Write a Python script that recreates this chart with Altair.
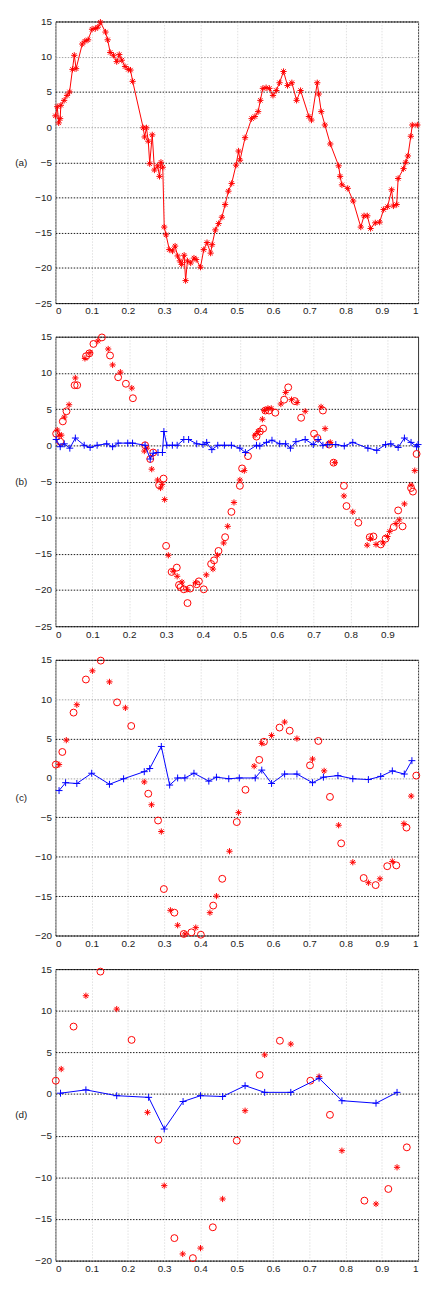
import altair as alt
import pandas as pd

# ---------------- panel (a): red line with '*' markers ----------------
a_x = [0, 0.005, 0.009, 0.013, 0.015, 0.024, 0.032, 0.039, 0.047, 0.052, 0.057, 0.074, 0.081, 0.09,
       0.101, 0.11, 0.117, 0.124, 0.138, 0.144, 0.151, 0.16, 0.169, 0.176, 0.183, 0.192, 0.201, 0.207,
       0.213, 0.242, 0.246, 0.251, 0.256, 0.26, 0.267, 0.273, 0.282, 0.287, 0.291, 0.296, 0.3, 0.305,
       0.314, 0.323, 0.33, 0.337, 0.343, 0.348, 0.355, 0.359, 0.364, 0.373, 0.382, 0.388, 0.4, 0.409,
       0.418, 0.428, 0.432, 0.441, 0.45, 0.459, 0.468, 0.477, 0.486, 0.498, 0.505, 0.509, 0.523, 0.541,
       0.55, 0.559, 0.565, 0.572, 0.581, 0.59, 0.6, 0.609, 0.618, 0.629, 0.64, 0.652, 0.665, 0.676,
       0.699, 0.706, 0.722, 0.726, 0.733, 0.743, 0.758, 0.781, 0.785, 0.79, 0.806, 0.821, 0.842, 0.851,
       0.86, 0.869, 0.882, 0.894, 0.905, 0.916, 0.927, 0.932, 0.941, 0.945, 0.96, 0.966, 0.972, 0.98,
       0.984, 0.998]
a_y = [1.6, 2.9, 0.6, 1.2, 3.1, 3.8, 4.5, 5.0, 8.2, 10.2, 8.3, 11.8, 12.2, 12.4, 13.9, 14.0, 14.2,
       14.9, 13.5, 12.4, 10.6, 10.2, 9.3, 10.3, 9.5, 8.6, 8.2, 8.1, 6.5, -0.1, -1.4, -0.1, -2.0, -5.2,
       -1.1, -6.1, -5.5, -7.0, -5.0, -5.7, -14.2, -15.3, -17.4, -17.6, -16.9, -18.3, -19.0, -19.5,
       -18.2, -21.8, -19.0, -19.3, -18.6, -18.8, -19.9, -17.4, -16.4, -17.9, -16.7, -14.6, -13.7,
       -12.8, -11.0, -9.1, -8.0, -5.4, -3.4, -4.7, -1.5, 1.2, 1.5, 2.2, 3.8, 5.5, 5.6, 5.5, 4.5, 5.2,
       6.3, 7.9, 5.9, 6.3, 3.8, 5.2, 1.5, 1.0, 6.3, 4.7, 2.2, 0.3, -2.4, -5.5, -7.0, -8.2, -8.7, -10.5,
       -14.2, -12.6, -12.6, -14.4, -13.6, -13.5, -11.7, -11.3, -8.9, -11.2, -11.0, -7.3, -5.9, -5.0,
       -4.1, -1.3, 0.3, 0.3]

# ---------------- panel (b) ----------------
b_o_x = [0.002, 0.013, 0.02, 0.03, 0.052, 0.059, 0.083, 0.092, 0.103, 0.126, 0.148, 0.17, 0.191,
         0.21, 0.243, 0.257, 0.265, 0.281, 0.293, 0.3, 0.315, 0.329, 0.335, 0.339, 0.348, 0.358, 0.365,
         0.383, 0.389, 0.402, 0.422, 0.43, 0.442, 0.46, 0.477, 0.5, 0.506, 0.522, 0.545, 0.554, 0.563,
         0.569, 0.579, 0.596, 0.62, 0.631, 0.649, 0.666, 0.701, 0.71, 0.725, 0.742, 0.754, 0.782, 0.789,
         0.821, 0.852, 0.862, 0.882, 0.895, 0.917, 0.929, 0.941, 0.964, 0.969, 0.979]
b_o_y = [1.6, 0.5, 3.3, 4.7, 8.3, 8.3, 12.3, 12.7, 14.0, 14.9, 12.4, 9.4, 8.5, 6.5, 0.0, -1.9, -1.0,
         -5.5, -4.6, -13.9, -17.5, -16.9, -19.3, -19.6, -19.9, -21.8, -19.8, -19.2, -18.8, -19.9, -16.4,
         -15.9, -14.6, -12.7, -9.2, -5.6, -3.2, -1.5, 1.2, 1.9, 2.3, 4.8, 4.8, 4.5, 6.3, 8.0, 6.1, 3.8,
         1.6, 1.0, 4.8, 0.1, -2.4, -5.6, -8.4, -10.7, -12.7, -12.6, -13.7, -12.9, -11.3, -9.0, -11.2,
         -5.9, -6.4, -1.2]
b_s_x = [0.005, 0.01, 0.016, 0.024, 0.037, 0.054, 0.08, 0.094, 0.115, 0.143, 0.155, 0.176, 0.207,
         0.241, 0.248, 0.261, 0.277, 0.285, 0.289, 0.296, 0.306, 0.319, 0.33, 0.343, 0.357, 0.38, 0.409,
         0.427, 0.439, 0.456, 0.467, 0.484, 0.5, 0.512, 0.541, 0.55, 0.561, 0.567, 0.576, 0.585, 0.611,
         0.624, 0.64, 0.655, 0.677, 0.72, 0.731, 0.745, 0.757, 0.782, 0.806, 0.845, 0.854, 0.869, 0.888,
         0.9, 0.906, 0.923, 0.932, 0.946, 0.964, 0.974]
b_s_y = [2.1, 1.4, 1.4, 3.9, 5.6, 9.3, 12.0, 12.8, 14.4, 13.3, 11.1, 10.1, 7.9, -0.8, -0.4, -3.3, -4.8,
         -5.9, -5.4, -7.5, -15.2, -17.4, -18.1, -18.9, -19.9, -19.0, -17.9, -17.1, -15.2, -13.5, -11.2,
         -7.9, -4.8, -3.5, 1.4, 1.9, 3.6, 4.8, 5.1, 5.1, 5.7, 7.3, 6.3, 5.9, 4.7, 5.3, 2.3, 0.4, -2.4,
         -7.0, -9.2, -13.8, -12.9, -13.7, -13.5, -12.6, -11.9, -10.8, -10.3, -8.1, -5.5, -3.5]
b_e_x = [0.002, 0.013, 0.024, 0.039, 0.054, 0.078, 0.094, 0.113, 0.139, 0.155, 0.17, 0.196, 0.209,
         0.243, 0.257, 0.265, 0.278, 0.29, 0.294, 0.302, 0.317, 0.33, 0.348, 0.361, 0.383, 0.4, 0.41,
         0.424, 0.44, 0.458, 0.477, 0.5, 0.515, 0.545, 0.554, 0.572, 0.587, 0.608, 0.624, 0.637, 0.652,
         0.677, 0.699, 0.712, 0.725, 0.738, 0.76, 0.783, 0.806, 0.847, 0.871, 0.895, 0.909, 0.929, 0.946,
         0.964, 0.979, 0.983]
b_e_y = [0.8, -0.2, 0.2, -0.4, 1.0, 0.0, -0.3, 0.0, 0.2, -0.2, 0.3, 0.3, 0.3, 0.0, -1.9, -1.1, -1.0,
         -1.0, 1.9, 0.0, 0.0, 0.0, 0.8, 0.8, 0.2, 0.1, 0.4, -0.6, 0.0, 0.0, 0.0, -0.4, -1.0, 0.0, -0.1,
         0.4, 0.7, 0.2, 0.2, -0.4, 0.5, 0.8, 0.1, 0.8, 0.0, 0.1, 0.1, -0.1, 0.4, -0.4, -0.7, 0.1, 0.2,
         -0.3, 1.0, 0.4, -0.2, 0.1]

# ---------------- panel (c) ----------------
c_o_x = [0.001, 0.019, 0.05, 0.084, 0.125, 0.17, 0.209, 0.256, 0.283, 0.299, 0.328, 0.354, 0.375,
         0.401, 0.435, 0.46, 0.5, 0.524, 0.562, 0.575, 0.618, 0.646, 0.702, 0.725, 0.757, 0.788, 0.85,
         0.883, 0.915, 0.94, 0.968, 0.995]
c_o_y = [1.7, 3.3, 8.3, 12.5, 14.9, 9.6, 6.6, -2.0, -5.4, -14.1, -17.1, -19.8, -19.6, -19.9, -16.2,
         -12.8, -5.6, -1.5, 2.3, 4.6, 6.4, 6.0, 1.6, 4.7, -2.4, -8.3, -12.7, -13.6, -11.2, -11.1, -6.3, 0.3]
c_s_x = [0.01, 0.03, 0.059, 0.102, 0.149, 0.193, 0.245, 0.265, 0.292, 0.317, 0.337, 0.357, 0.387,
         0.426, 0.444, 0.48, 0.505, 0.548, 0.569, 0.596, 0.632, 0.666, 0.709, 0.741, 0.781, 0.82, 0.863,
         0.895, 0.929, 0.961, 0.981]
c_s_y = [1.7, 4.8, 9.3, 13.6, 12.2, 8.9, -0.5, -3.4, -6.8, -16.8, -18.7, -19.8, -19.0, -17.1, -15.0,
         -9.3, -4.4, 1.5, 4.4, 5.4, 7.1, 5.0, 2.4, 0.9, -6.0, -10.7, -13.3, -12.8, -10.6, -5.8, -2.3]
c_e_x = [0.01, 0.028, 0.059, 0.1, 0.149, 0.188, 0.245, 0.26, 0.292, 0.315, 0.337, 0.357, 0.382, 0.423,
         0.444, 0.478, 0.507, 0.551, 0.569, 0.596, 0.632, 0.666, 0.709, 0.739, 0.779, 0.82, 0.863, 0.897,
         0.929, 0.962, 0.983]
c_e_y = [-1.6, -0.6, -0.7, 0.6, -0.8, -0.1, 0.8, 1.2, 4.0, -0.9, 0.0, 0.0, 0.6, -0.4, 0.1, -0.1, 0.0,
         0.0, 1.0, -0.7, 0.5, 0.5, -0.6, 0.1, 0.3, -0.1, -0.2, 0.2, 0.9, 0.5, 2.2]

# ---------------- panel (d) ----------------
d_o_x = [0.001, 0.05, 0.124, 0.21, 0.284, 0.328, 0.379, 0.434, 0.5, 0.563, 0.619, 0.703, 0.757, 0.852,
         0.918, 0.969]
d_o_y = [1.6, 8.1, 14.7, 6.5, -5.5, -17.3, -19.7, -16.0, -5.6, 2.3, 6.4, 1.6, -2.5, -12.8, -11.4, -6.4]
d_s_x = [0.016, 0.084, 0.169, 0.254, 0.3, 0.351, 0.4, 0.461, 0.523, 0.577, 0.649, 0.727, 0.79, 0.884,
         0.942]
d_s_y = [3.0, 11.8, 10.2, -2.2, -11.0, -19.2, -18.5, -12.6, -2.0, 4.7, 6.0, 2.1, -6.8, -13.2, -8.8]
d_e_x = [0.014, 0.084, 0.169, 0.257, 0.3, 0.352, 0.4, 0.461, 0.523, 0.577, 0.649, 0.727, 0.79, 0.884,
         0.942]
d_e_y = [0.1, 0.5, -0.2, -0.4, -4.2, -0.9, -0.2, -0.3, 1.0, 0.2, 0.2, 1.9, -0.8, -1.1, 0.2]

x_ticks_full = [0, 0.1, 0.2, 0.3, 0.4, 0.5, 0.6, 0.7, 0.8, 0.9, 1]
x_ticks_b = [0, 0.1, 0.2, 0.3, 0.4, 0.5, 0.6, 0.7, 0.8, 0.9]
y_ticks_25 = [-25, -20, -15, -10, -5, 0, 5, 10, 15]
y_ticks_20 = [-20, -15, -10, -5, 0, 5, 10, 15]

PLUS = "M-1,0L1,0M0,-1L0,1"
STAR = "M-1,0L1,0M0,-1L0,1M-0.7,-0.7L0.7,0.7M-0.7,0.7L0.7,-0.7"
RED = "#ff0000"
BLUE = "#0000ff"
W = 367


def df(xs, ys):
    return pd.DataFrame({"x": xs, "y": ys})


def enc(xdom, xticks, ydom, yticks, label, h, gray):
    grid_color = "black"
    if gray:
        grid_color = {"condition": {"test": "datum.value == 10 || datum.value == 0",
                                    "value": "#9a9a9a"}, "value": "black"}
    x = alt.X("x:Q", scale=alt.Scale(domain=xdom, nice=False, zero=False),
              axis=alt.Axis(values=xticks, format="~g", grid=True, ticks=False, domain=False,
                            labelPadding=3, title=None, labelFlush=True))
    y = alt.Y("y:Q", scale=alt.Scale(domain=ydom, nice=False, zero=False),
              axis=alt.Axis(values=yticks, grid=True, ticks=False, domain=False, labelPadding=4,
                            gridColor=grid_color, title=label, titleAngle=0, titleX=-35,
                            titleY=h / 2, titleAlign="center", titleBaseline="middle"))
    return x, y


def pts(data, shape, color, size, x, y):
    return alt.Chart(data).mark_point(shape=shape, color=color, size=size, strokeWidth=1,
                                      filled=False, opacity=1).encode(x=x, y=y)


def line(data, color, x, y):
    return alt.Chart(data).mark_line(color=color, strokeWidth=1).encode(x=x, y=y)


# panel (a)
Ha = 285
xa, ya = enc([0, 1], x_ticks_full, [-25, 15], y_ticks_25, "(a)", Ha, True)
da = df(a_x, a_y)
pa = alt.layer(line(da, RED, xa, ya), pts(da, STAR, RED, 40, xa, ya)).properties(width=W, height=Ha)

# panel (b)
Hb = 293
xb, yb = enc([0, 0.983], x_ticks_b, [-25, 15], y_ticks_25, "(b)", Hb, False)
db_e = df(b_e_x, b_e_y)
pb = alt.layer(
    pts(df(b_s_x, b_s_y), STAR, RED, 40, xb, yb),
    pts(df(b_o_x, b_o_y), "circle", RED, 49, xb, yb),
    line(db_e, BLUE, xb, yb),
    pts(db_e, PLUS, BLUE, 49, xb, yb),
).properties(width=W, height=Hb)

# panel (c)
Hc = 279
xc, yc = enc([0, 1], x_ticks_full, [-20, 15], y_ticks_20, "(c)", Hc, True)
dc_e = df(c_e_x, c_e_y)
pc = alt.layer(
    pts(df(c_s_x, c_s_y), STAR, RED, 40, xc, yc),
    pts(df(c_o_x, c_o_y), "circle", RED, 49, xc, yc),
    line(dc_e, BLUE, xc, yc),
    pts(dc_e, PLUS, BLUE, 49, xc, yc),
).properties(width=W, height=Hc)

# panel (d)
Hd = 295
xd, yd = enc([0, 1], x_ticks_full, [-20, 15], y_ticks_20, "(d)", Hd, False)
dd_e = df(d_e_x, d_e_y)
pd_ = alt.layer(
    pts(df(d_s_x, d_s_y), STAR, RED, 40, xd, yd),
    pts(df(d_o_x, d_o_y), "circle", RED, 49, xd, yd),
    line(dd_e, BLUE, xd, yd),
    pts(dd_e, PLUS, BLUE, 49, xd, yd),
).properties(width=W, height=Hd)

chart = alt.vconcat(pa, pb, pc, pd_, spacing=34, bounds="flush").properties(
    padding={"left": 6, "top": 0, "right": 0, "bottom": 0}
).configure_view(
    stroke="#333333", strokeWidth=1
).configure_axis(
    labelFont="Liberation Sans", labelFontSize=10, labelColor="#222222",
    titleFont="Liberation Sans", titleFontSize=10, titleFontWeight="normal", titleColor="#222222",
    gridDash=[1.5, 1.5], gridWidth=1, gridOpacity=0.9
)

chart.save("out.html", embed_options={"renderer": "svg", "actions": False})
